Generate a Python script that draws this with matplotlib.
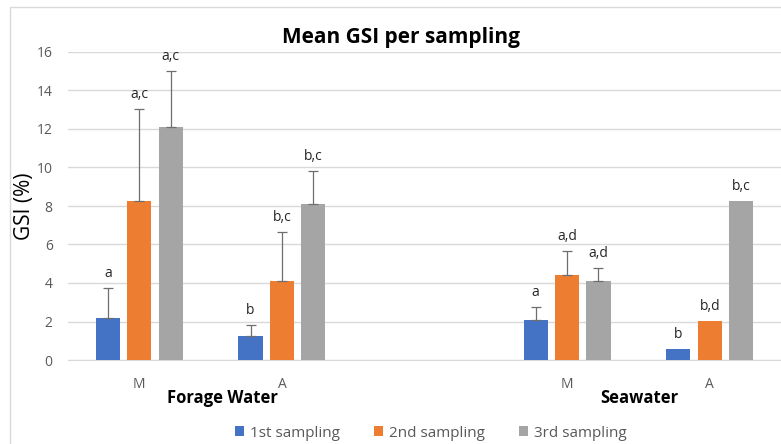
import matplotlib.pyplot as plt
import matplotlib.patches as patches
import numpy as np

plt.rcParams['font.family'] = ['Open Sans', 'DejaVu Sans']

# data
groups = ['Forage Water', 'Seawater']
sites = ['M', 'A', 'M', 'A']
samplings = ['1st sampling', '2nd sampling', '3rd sampling']

mean_1st = [2.17, 1.23, 2.08, 0.59]
mean_2nd = [8.26, 4.12, 4.43, 2.03]
mean_3rd = [12.12, 8.09, 4.11, 8.25]

sd_1st = [1.57, 0.58, 0.66, 0.0]
sd_2nd = [4.76, 2.54, 1.21, 0.0]
sd_3rd = [2.89, 1.74, 0.66, 0.0]

letters_1st = ['a', 'b', 'a', 'b']
letters_2nd = ['a,c', 'b,c', 'a,d', 'b,d']
letters_3rd = ['a,c', 'b,c', 'a,d', 'b,c']

colors = ['#4472C4', '#ED7D31', '#A5A5A5']

means = [mean_1st, mean_2nd, mean_3rd]
sds = [sd_1st, sd_2nd, sd_3rd]
letters = [letters_1st, letters_2nd, letters_3rd]

# slot 2 is left empty between the two water types
x = np.array([0, 1, 3, 4])
width = 0.17
offs = [-0.22, 0, 0.22]

fig = plt.figure(figsize=(7.81, 4.44), dpi=100)
ax = fig.add_axes([68/781, 84/444, 713/781, 308/444])

for i in range(3):
    xs = x + offs[i]
    ax.bar(xs, means[i], width, color=colors[i], label=samplings[i], zorder=3)
    has_err = [s > 0 for s in sds[i]]
    ax.errorbar(xs[has_err], np.array(means[i])[has_err],
                yerr=[np.zeros(sum(has_err)), np.array(sds[i])[has_err]],
                fmt='none', ecolor='#6e6e6e', elinewidth=0.9, capsize=3.5,
                capthick=0.9, zorder=4)
    for j in range(len(x)):
        top = means[i][j] + sds[i][j]
        ax.annotate(letters[i][j], (xs[j], top), xytext=(0, 5),
                    textcoords='offset points', ha='center', va='bottom',
                    fontsize=10, color='#262626')

ax.set_xlim(-0.5, 4.5)
ax.set_ylim(0, 16)
ax.set_yticks(range(0, 17, 2))
ax.yaxis.grid(True, color='#d9d9d9', linewidth=1, zorder=0)
ax.set_xticks(x)
ax.set_xticklabels(sites)
ax.tick_params(axis='both', length=0, labelsize=10, labelcolor='#595959')
ax.tick_params(axis='x', pad=12)
ax.tick_params(axis='y', pad=11)
for s in ['top', 'right', 'left']:
    ax.spines[s].set_visible(False)
ax.spines['bottom'].set_color('#d9d9d9')

ax.set_ylabel('GSI (%)', fontsize=15, color='black', labelpad=1)

fig.text(222/781, 1 - 398/444, groups[0], ha='center', va='center',
         fontsize=12, fontweight='bold')
fig.text(639/781, 1 - 398/444, groups[1], ha='center', va='center',
         fontsize=12, fontweight='bold')
fig.text(401/781, 1 - 38/444, 'Mean GSI per sampling', ha='center', va='center',
         fontsize=15, fontweight='bold')

fig.legend(loc='center', bbox_to_anchor=(431/781, 1 - 433/444), ncol=3,
           frameon=False, fontsize=11, handlelength=0.6, handleheight=0.6,
           handletextpad=0.4, columnspacing=2.2, labelcolor='#595959')

fig.patches.append(patches.Rectangle((10/781, -0.05), 1.0, 1.05 - 7/444,
                                     transform=fig.transFigure, fill=False,
                                     edgecolor='#d9d9d9', linewidth=1))

fig.savefig('out.png', dpi=100)
